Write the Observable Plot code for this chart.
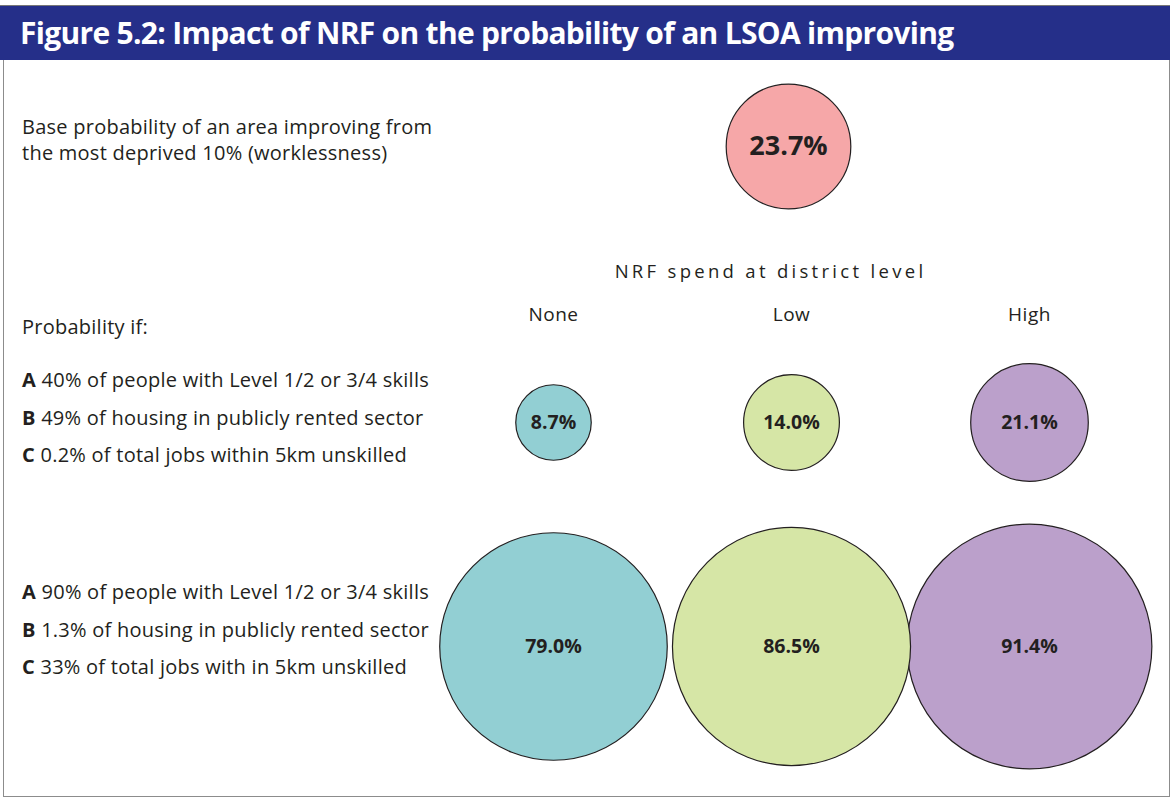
<!DOCTYPE html>
<html>
<head>
<meta charset="utf-8">
<script src="https://cdn.jsdelivr.net/npm/d3@7"></script>
<script src="https://cdn.jsdelivr.net/npm/@observablehq/plot@0.6"></script>
<style>
  html, body { margin: 0; padding: 0; background: #fff; }
  #wrap { position: relative; width: 1174px; height: 799px; font-family: "Open Sans", "Noto Sans", sans-serif; color: #231f20; overflow: hidden; }
  #header { position: absolute; left: 0; top: 5px; width: 1170px; height: 55px; background: #252f89; border-top: 1px solid #777; box-sizing: border-box; }
  #header span { position: absolute; left: 20px; top: 6px; color: #fff; font-weight: 700; font-size: 30px; letter-spacing: -0.7px; white-space: nowrap; font-family: "Open Sans", sans-serif; }
  #box { position: absolute; left: 3px; top: 60px; width: 1167px; height: 737px; border: 1.5px solid #8c8c8c; border-top: none; box-sizing: border-box; }
  .lbl { position: absolute; left: 22px; font-size: 20px; letter-spacing: 0.25px; line-height: 26px; white-space: nowrap; }
  .lbl b { font-weight: 700; }
  .plot { position: absolute; left: 0; }
</style>
</head>
<body>
<div id="wrap">
  <div id="box"></div>
  <div id="header"><span id="title"></span></div>
  <div class="lbl" id="baseLbl" style="top:114px"></div>
  <div class="lbl" id="probIf" style="top:314px"></div>
  <div class="lbl" id="rowA" style="top:361px; line-height:37.5px"></div>
  <div class="lbl" id="rowB" style="top:573px; line-height:37.5px"></div>
  <div class="plot" id="p1" style="top:62px"></div>
  <div class="plot" id="p2" style="top:240px"></div>
</div>
<script>
const title = "Figure 5.2: Impact of NRF on the probability of an LSOA improving";
const baseText = ["Base probability of an area improving from", "the most deprived 10% (worklessness)"];
const probIfText = "Probability if:";
const scenarioSmall = [["A", "40% of people with Level 1/2 or 3/4 skills"], ["B", "49% of housing in publicly rented sector"], ["C", "0.2% of total jobs within 5km unskilled"]];
const scenarioBig = [["A", "90% of people with Level 1/2 or 3/4 skills"], ["B", "1.3% of housing in publicly rented sector"], ["C", "33% of total jobs with in 5km unskilled"]];
const axisTitle = "NRF spend at district level";
const spendLevels = ["None", "Low", "High"];
const scenarios = ["small", "big"];
const baseValue = 23.7;
const smallValues = [8.7, 14.0, 21.1];
const bigValues = [79.0, 86.5, 91.4];
const levelColors = ["#92cfd3", "#d6e6a6", "#bba0cb"];
const baseColor = "#f6a7a8";

document.getElementById("title").textContent = title;
document.getElementById("baseLbl").innerHTML = baseText.join("<br>");
document.getElementById("probIf").textContent = probIfText;
document.getElementById("rowA").innerHTML = scenarioSmall.map(([k, t]) => `<b>${k}</b> ${t}`).join("<br>");
document.getElementById("rowB").innerHTML = scenarioBig.map(([k, t]) => `<b>${k}</b> ${t}`).join("<br>");

const rScale = {type: "sqrt", domain: [0, 100], range: [0, 128]};
const fmt = v => v.toFixed(1) + "%";

// Base circle
const p1 = Plot.plot({
  width: 1174, height: 168,
  marginLeft: 576, marginRight: 174, marginTop: 0, marginBottom: 0,
  r: rScale,
  style: {fontFamily: "Open Sans, sans-serif", color: "#231f20", background: "transparent"},
  marks: [
    Plot.dot([baseValue], {r: d => d, frameAnchor: "middle", fill: baseColor, stroke: "#231f20", strokeWidth: 1.2}),
    Plot.text([baseValue], {text: fmt, frameAnchor: "middle", fontSize: 27, fontWeight: 700, fill: "#231f20"})
  ]
});
document.getElementById("p1").appendChild(p1);

// Grid of scenarios × spend levels
const grid = [];
scenarios.forEach((s, i) => {
  const vals = i === 0 ? smallValues : bigValues;
  spendLevels.forEach((lvl, j) => grid.push({scenario: s, level: lvl, value: vals[j]}));
});

const p2 = Plot.plot({
  width: 1174, height: 550,
  marginLeft: 553, marginRight: 145, marginTop: 182, marginBottom: 144,
  x: {type: "point", domain: spendLevels, padding: 0, axis: null},
  y: {type: "point", domain: scenarios, padding: 0, axis: null},
  r: rScale,
  color: {domain: spendLevels, range: levelColors},
  style: {fontFamily: "Open Sans, sans-serif", color: "#231f20", background: "transparent"},
  marks: [
    Plot.axisX({anchor: "top", tickSize: 0, tickPadding: 102, fontSize: 19, label: null}),
    Plot.text([axisTitle], {frameAnchor: "top", dy: -158, dx: -21, fontSize: 18.5, fill: "#231f20"}),
    Plot.dot(grid, {x: "level", y: "scenario", r: "value", fill: "level", stroke: "#231f20", strokeWidth: 1.2}),
    Plot.text(grid, {x: "level", y: "scenario", text: d => fmt(d.value), fontSize: 19.5, fontWeight: 700, fill: "#231f20"})
  ]
});
// letter-spacing for the spaced-out axis title and tick labels
d3.select(p2).selectAll("text").filter(function() { return this.textContent === axisTitle; })
  .style("letter-spacing", "3.3px");
d3.select(p2).selectAll("text").filter(function() { return spendLevels.includes(this.textContent); })
  .style("letter-spacing", "0.5px");
document.getElementById("p2").appendChild(p2);
</script>
</body>
</html>
